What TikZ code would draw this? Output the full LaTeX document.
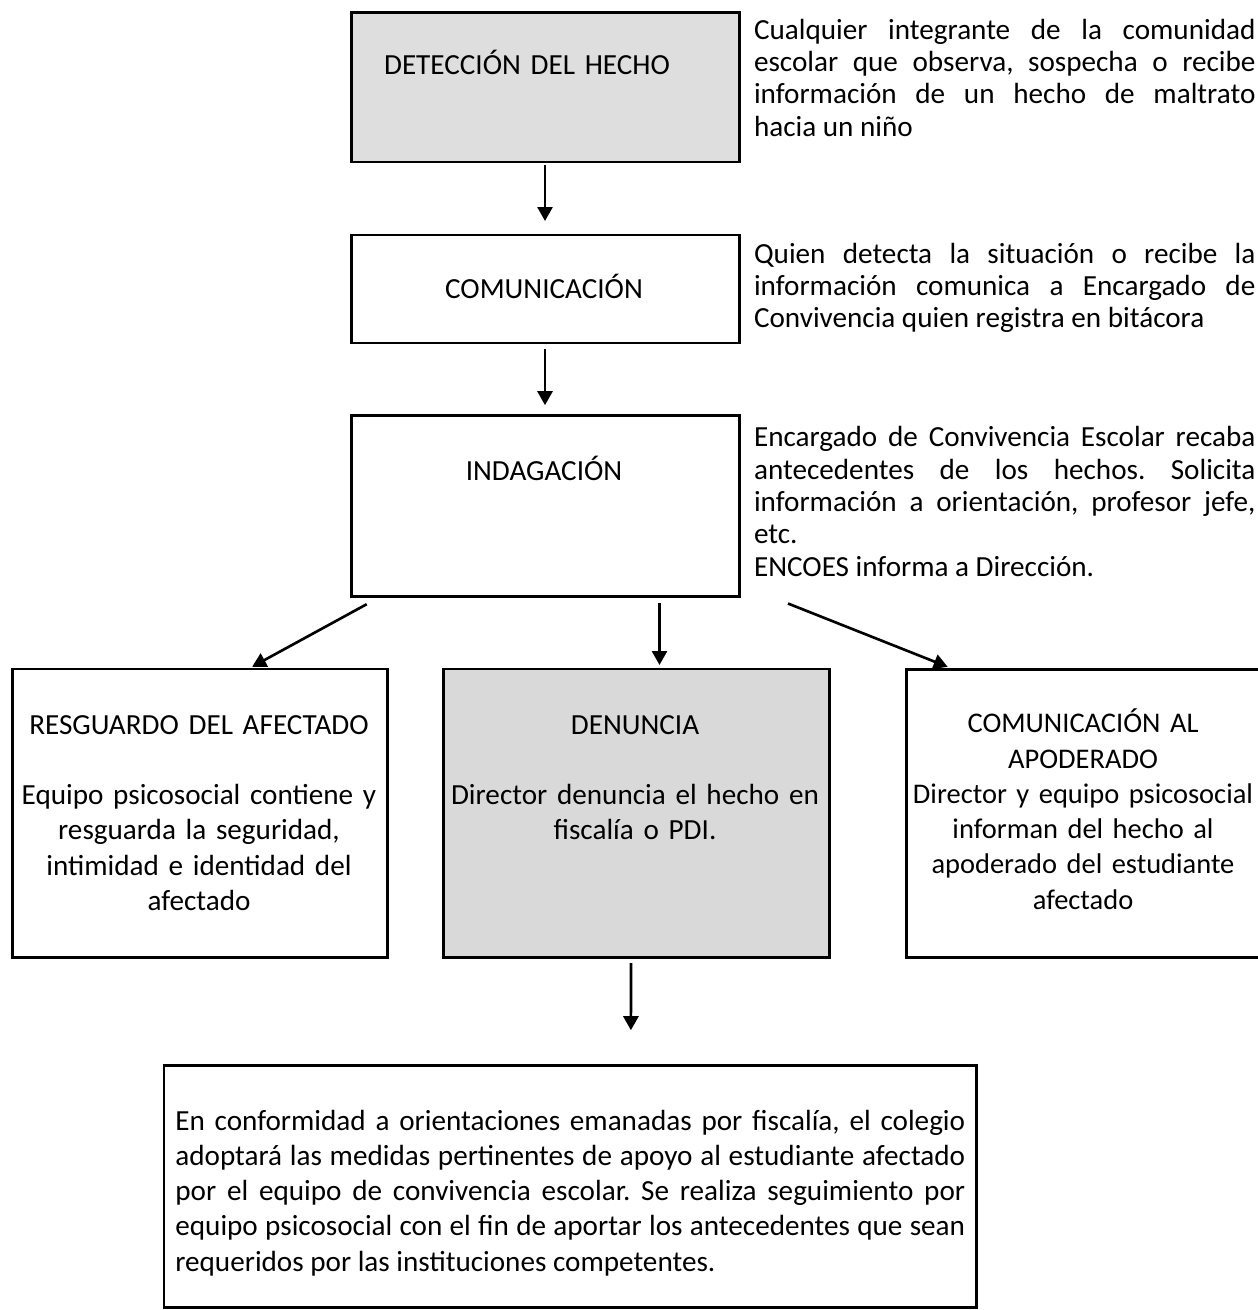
\documentclass[tikz,border=0pt]{standalone}
\usepackage{fontspec}
\setmainfont{Carlito}
\usetikzlibrary{arrows.meta,fit}

\definecolor{grisA}{HTML}{DEDEDE}
\definecolor{grisB}{HTML}{D9D9D9}
\frenchspacing

\begin{document}
\begin{tikzpicture}[x=0.02cm, y=-0.02cm,
    caja/.style={draw, line width=1.7pt, inner sep=0pt},
    flecha/.style={line width=1.5pt, -{Triangle[length=0.28cm, width=0.3cm]}},
    titulo/.style={inner sep=0pt, anchor=base, text width=7.4cm, align=center, font=\fontsize{16.6}{20.1}\selectfont},
    nota/.style={inner sep=0pt, anchor=base west, align=justify, font=\fontsize{16.6}{18.4}\selectfont}]
      \useasboundingbox (0,0) rectangle (1257,1310);

      % columna central
      \node(D)[caja, fill=grisA, fit={(351,13) (739,162)}] {};
      \node(ND)[titulo] at (527,75) {DETECCIÓN DEL HECHO};

      \node(C)[caja, fit={(351,235) (739,343)}] {};
      \node(NC)[titulo] at (544,299) {COMUNICACIÓN};

      \node(I)[caja, fit={(351,415.7) (739,596.7)}] {};
      \node(NI)[titulo] at (544,480) {INDAGACIÓN};

      % notas a la derecha
      \node(T1)[nota, text width=10.03cm] at (753.7,39.3) {Cualquier integrante de la comunidad\linebreak escolar que observa, sospecha o recibe\linebreak información de un hecho de maltrato\linebreak hacia un niño};
      \node(T2)[nota, text width=10.03cm] at (753.7,263.3) {Quien detecta la situación o recibe la\linebreak información comunica a Encargado de\linebreak Convivencia quien registra en bitácora};
      \node(T3)[nota, text width=10.03cm] at (753.7,446.7) {Encargado de Convivencia Escolar recaba\linebreak antecedentes de los hechos. Solicita\linebreak información a orientación, profesor jefe,\linebreak etc.\\ENCOES informa a Dirección.};

      % tres ramas
      \node(R)[caja, fit={(12.3,669) (387.3,957.7)}] {};
      \node(NR)[titulo] at (199,734) {RESGUARDO DEL AFECTADO\\[20.1pt] Equipo psicosocial contiene y\\ resguarda la seguridad,\\ intimidad e identidad del\\ afectado};

      \node(F)[caja, fill=grisB, fit={(443,669) (829,957.7)}] {};
      \node(NF)[titulo] at (635,734) {DENUNCIA\\[20.1pt] Director denuncia el hecho en\\ fiscalía o PDI.};

      \node(P)[caja, fit={(906,669.3) (1272,957.7)}] {};
      \node(NP)[titulo, font=\fontsize{16.2}{20.1}\selectfont] at (1083,732.7) {COMUNICACIÓN AL\\ APODERADO\\ Director y equipo psicosocial\\ informan del hecho al\\ apoderado del estudiante\\ afectado};

      \node(M)[caja, fit={(164,1065.7) (976.7,1307.5)}] {};
      \node(NM)[nota, text width=15.8cm, font=\fontsize{16.6}{20.1}\selectfont] at (175,1130) {En conformidad a orientaciones emanadas por fiscalía, el colegio\linebreak adoptará las medidas pertinentes de apoyo al estudiante afectado\linebreak por el equipo de convivencia escolar. Se realiza seguimiento por\linebreak equipo psicosocial con el fin de aportar los antecedentes que sean\linebreak requeridos por las instituciones competentes.};

      \draw[flecha, shorten <=0.04cm, shorten >=0.25cm] (D.south) -- (C.north);
      \draw[flecha, shorten <=0.09cm, shorten >=0.18cm] (C.south) -- (I.north);

      \draw[flecha, shorten >=0.03cm] ([xshift=-3.566cm, yshift=-0.12cm]I.south) -- ([xshift=1.02cm]R.north);
      \draw[flecha, shorten >=0.05cm] ([xshift=2.29cm, yshift=-0.1cm]I.south) -- ([xshift=0.47cm]F.north);
      \draw[flecha, shorten >=0.05cm] ([xshift=4.86cm, yshift=-0.106cm]I.south) -- ([xshift=-2.78cm]P.north);

      \draw[flecha, shorten >=0.68cm] ([xshift=-0.1cm, yshift=-0.08cm]F.south) -- ([xshift=1.21cm]M.north);
\end{tikzpicture}
\end{document}
